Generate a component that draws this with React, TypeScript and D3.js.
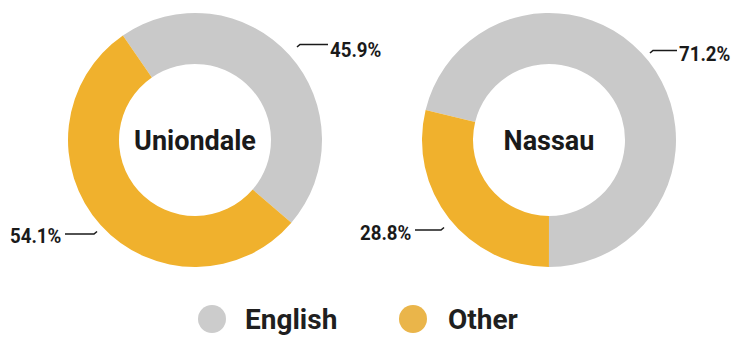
import React from "react";
import * as d3 from "d3";

const categories = ["English", "Other"];
const donutNames = ["Uniondale", "Nassau"];
const uniondaleValues = [45.9, 54.1];
const nassauValues = [71.2, 28.8];
const percentLabels = [["45.9%", "54.1%"], ["71.2%", "28.8%"]];

const colors = d3.scaleOrdinal<string, string>().domain(categories).range(["#c9c9c9", "#f0b12d"]);
const legendColors = ["#cccccc", "#eab54a"];

const W = 733;
const H = 337;
const OUTER = 127;
const INNER = 76;
const FONT = "Roboto, 'Open Sans', sans-serif";

const donuts = [
  {
    name: donutNames[0],
    values: uniondaleValues,
    cx: 195,
    cy: 140,
    startDeg: -34.6,
    labels: [
      { text: percentLabels[0][0], tx: 330, ty: 57, line: [[297, 47], [300, 44.5], [328, 44.5]] },
      { text: percentLabels[0][1], tx: 10, ty: 243, line: [[65, 234], [94, 234], [97, 231.5]] },
    ],
  },
  {
    name: donutNames[1],
    values: nassauValues,
    cx: 549,
    cy: 140,
    startDeg: -76.3,
    labels: [
      { text: percentLabels[1][0], tx: 679, ty: 61, line: [[650, 53], [653, 50.5], [677, 50.5]] },
      { text: percentLabels[1][1], tx: 360, ty: 240, line: [[415, 230], [441, 230], [444, 227.5]] },
    ],
  },
];

export default function App() {
  const arc = d3.arc<d3.PieArcDatum<number>>().innerRadius(INNER).outerRadius(OUTER);
  return (
    <svg width={W} height={H} style={{ position: "absolute", left: 0, top: 0, background: "#fff" }}>
      {donuts.map((d, di) => {
        const start = (d.startDeg * Math.PI) / 180;
        const pie = d3.pie<number>().sort(null).startAngle(start).endAngle(start + 2 * Math.PI);
        const arcs = pie(d.values);
        return (
          <g key={di}>
            <g transform={`translate(${d.cx},${d.cy})`}>
              {arcs.map((a, i) => (
                <path key={i} d={arc(a) || ""} fill={colors(categories[i])} />
              ))}
              <text
                x={0}
                y={0}
                dy="0.36em"
                textAnchor="middle"
                fontFamily={FONT}
                fontWeight={700}
                fontSize={27}
                fill="#1a1a1a"
              >
                {d.name}
              </text>
            </g>
            {d.labels.map((l, li) => (
              <g key={li}>
                <polyline
                  points={l.line.map((p) => p.join(",")).join(" ")}
                  fill="none"
                  stroke="#1a1a1a"
                  strokeWidth={1.6}
                />
                <text
                  transform={`translate(${l.tx},${l.ty}) scale(0.89,1)`}
                  fontFamily={FONT}
                  fontWeight={700}
                  fontSize={21}
                  fill="#1a1a1a"
                >
                  {l.text}
                </text>
              </g>
            ))}
          </g>
        );
      })}
      {categories.map((c, i) => {
        const cx = [212, 413][i];
        const tx = [245, 448][i];
        return (
          <g key={c}>
            <circle cx={cx} cy={319} r={14} fill={legendColors[i]} />
            <text x={tx} y={329} fontFamily={FONT} fontWeight={700} fontSize={28} fill="#1f1f1f">
              {c}
            </text>
          </g>
        );
      })}
    </svg>
  );
}
